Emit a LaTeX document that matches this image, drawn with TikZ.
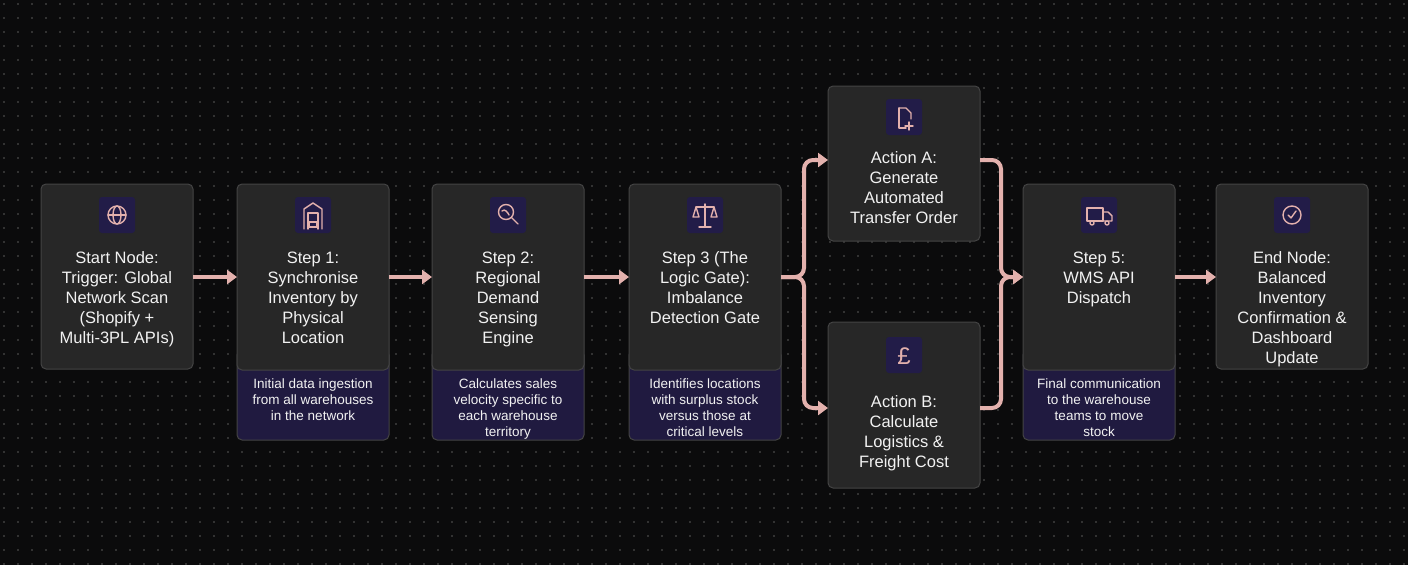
\documentclass[tikz,border=0pt]{standalone}
\usepackage{fontspec}
\setmainfont{Liberation Sans}
\usetikzlibrary{arrows.meta}
\definecolor{bg}{HTML}{0B0B0C}
\definecolor{dotc}{HTML}{5A5A5A}
\definecolor{boxf}{HTML}{272727}
\definecolor{boxd}{HTML}{444444}
\definecolor{subf}{HTML}{201A40}
\definecolor{iconf}{HTML}{221C48}
\definecolor{pinkc}{HTML}{E3B1AD}
\definecolor{txt}{HTML}{F2F2F2}
\begin{document}
\begin{tikzpicture}[x=1pt,y=-1pt,
  box/.style={draw=boxd,fill=boxf,rounded corners=5pt,line width=1pt},
  sub/.style={draw=boxd,fill=subf,rounded corners=5pt,line width=1pt},
  ttl/.style={text=txt,font=\fontsize{16.5}{20}\selectfont,align=center,anchor=north},
  dsc/.style={text=txt,font=\fontsize{13.5}{16}\selectfont,align=center,anchor=north},
  ico/.style={fill=iconf,rounded corners=3pt},
  ic/.style={draw=pinkc,line width=1.4pt,line cap=round,line join=round},
  arr/.style={draw=pinkc,line width=4pt,-{Triangle[length=10pt,width=14pt]}},
  barr/.style={draw=pinkc,line width=4pt,rounded corners=9pt,-{Triangle[length=10pt,width=14pt]}}]
\fill[bg] (0,0) rectangle (1408,565);
\foreach \i in {0,...,100}{\foreach \j in {0,...,40}{\fill[dotc] (4+\i*14,4+\j*14) circle (0.8pt);}}
% Start
\path[box] (41,184) rectangle (193,369);
\path[ico] (99,197) rectangle (135,233);
\draw[ic] (117,215) circle (9); \draw[ic] (117,215) ellipse (4 and 9); \draw[ic] (108,215) -- (126,215);
\node[ttl] (start) at (117,248) {Start Node:\\Trigger: Global\\Network Scan\\(Shopify +\\Multi-3PL APIs)};
% Step 1
\path[sub] (237,350) rectangle (389,440);
\path[box] (237,184) rectangle (389,370);
\path[ico] (295,197) rectangle (331,233);
\draw[ic] (304,229) -- (304,209) -- (313,203) -- (322,209) -- (322,229); \draw[ic] (308,229) -- (308,213) -- (318,213) -- (318,229); \draw[ic] (309,222) rectangle (317,227);
\node[ttl] (s1) at (313,248) {Step 1:\\Synchronise\\Inventory by\\Physical\\Location};
\node[dsc] (d1) at (313,375) {Initial data ingestion\\from all warehouses\\in the network};
% Step 2
\path[sub] (432,350) rectangle (584,440);
\path[box] (432,184) rectangle (584,370);
\path[ico] (490,197) rectangle (526,233);
\draw[ic] (506,212) circle (7.5); \draw[ic] (511.5,217.5) -- (518,224); \draw[ic] (502,211) .. controls (505,208) and (508,213) .. (509,215);
\node[ttl] (s2) at (508,248) {Step 2:\\Regional\\Demand\\Sensing\\Engine};
\node[dsc] (d2) at (508,375) {Calculates sales\\velocity specific to\\each warehouse\\territory};
% Step 3
\path[sub] (629,350) rectangle (781,440);
\path[box] (629,184) rectangle (781,370);
\path[ico] (687,197) rectangle (723,233);
\draw[ic] (705,204) -- (705,227); \draw[ic] (699,227) -- (711,227); \draw[ic] (696,207) -- (714,207);
\draw[ic] (696,207) -- (693,217) -- (699,217) -- cycle; \draw[ic] (714,207) -- (711,217) -- (717,217) -- cycle;
\node[ttl] (s3) at (705,248) {Step 3 (The\\Logic Gate):\\Imbalance\\Detection Gate};
\node[dsc] (d3) at (705,375) {Identifies locations\\with surplus stock\\versus those at\\critical levels};
% Action A
\path[box] (828,86) rectangle (980,241);
\path[ico] (886,99) rectangle (922,135);
\draw[ic] (899,108) -- (906,108) -- (911,113) -- (911,119); \draw[ic] (899,108) -- (899,128) -- (906,128); \draw[ic] (909,122) -- (909,130); \draw[ic] (905,126) -- (913,126);
\node[ttl] (a) at (904,148) {Action A:\\Generate\\Automated\\Transfer Order};
% Action B
\path[box] (828,322) rectangle (980,488);
\path[ico] (886,337) rectangle (922,373);
\node[text=pinkc,font=\fontsize{24}{24}\selectfont] (bicon) at (904,356) {£};
\node[ttl] (b) at (904,392) {Action B:\\Calculate\\Logistics \&\\Freight Cost};
% Step 5
\path[sub] (1023,350) rectangle (1175,440);
\path[box] (1023,184) rectangle (1175,370);
\path[ico] (1081,197) rectangle (1117,233);
\draw[ic] (1087,208) rectangle (1103,221); \draw[ic] (1103,212) -- (1108,212) -- (1112,216) -- (1112,221) -- (1103,221);
\draw[ic,fill=iconf] (1092,223) circle (2); \draw[ic,fill=iconf] (1107,223) circle (2);
\node[ttl] (s5) at (1099,248) {Step 5:\\WMS API\\Dispatch};
\node[dsc] (d5) at (1099,375) {Final communication\\to the warehouse\\teams to move\\stock};
% End
\path[box] (1216,184) rectangle (1368,369);
\path[ico] (1274,197) rectangle (1310,233);
\draw[ic] (1292,215) circle (9); \draw[ic] (1288,215) -- (1291,218) -- (1296,211);
\node[ttl] (e) at (1292,248) {End Node:\\Balanced\\Inventory\\Confirmation \&\\Dashboard\\Update};
% anchors for connectors
\coordinate (startR) at (193,277); \coordinate (s1L) at (237,277); \coordinate (s1R) at (389,277);
\coordinate (s2L) at (432,277); \coordinate (s2R) at (584,277); \coordinate (s3L) at (629,277);
\coordinate (s3R) at (781,277); \coordinate (aL) at (828,160); \coordinate (bL) at (828,408);
\coordinate (aR) at (980,160); \coordinate (bR) at (980,408); \coordinate (s5L) at (1023,277);
\coordinate (s5R) at (1175,277); \coordinate (eL) at (1216,277);
\draw[arr] (startR) -- (s1L);
\draw[arr] (s1R) -- (s2L);
\draw[arr] (s2R) -- (s3L);
\draw[barr] (s3R) -- ++(23,0) |- (aL);
\draw[barr] (s3R) -- ++(23,0) |- (bL);
\draw[barr] (aR) -- ++(21,0) |- (s5L);
\draw[barr] (bR) -- ++(21,0) |- (s5L);
\draw[arr] (s5R) -- (eL);
\end{tikzpicture}
\end{document}
